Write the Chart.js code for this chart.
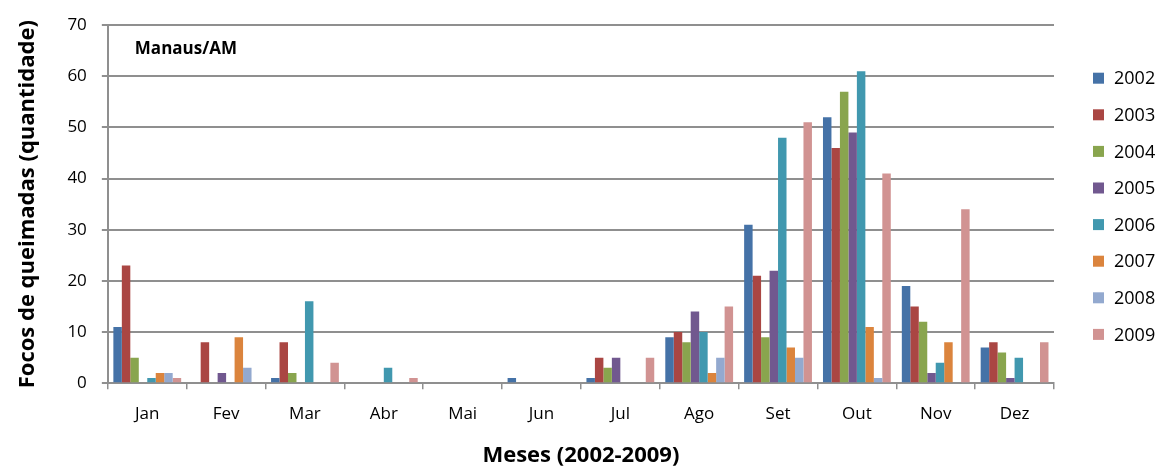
<!DOCTYPE html>
<html>
<head>
<meta charset="utf-8">
<script src="https://cdn.jsdelivr.net/npm/chart.js@4"></script>
<style>
  html, body { margin: 0; padding: 0; background: #ffffff; }
  #wrap { width: 1163px; height: 469px; }
</style>
</head>
<body>
<div id="wrap"><canvas id="chart" width="1163" height="469"></canvas></div>
<script>
// Focos de queimadas por mês, Manaus/AM, 2002–2009
const months = ['Jan', 'Fev', 'Mar', 'Abr', 'Mai', 'Jun', 'Jul', 'Ago', 'Set', 'Out', 'Nov', 'Dez'];
const years = ['2002', '2003', '2004', '2005', '2006', '2007', '2008', '2009'];

const focos2002 = [11, 0, 1, 0, 0, 1, 1, 9, 31, 52, 19, 7];
const focos2003 = [23, 8, 8, 0, 0, 0, 5, 10, 21, 46, 15, 8];
const focos2004 = [5, 0, 2, 0, 0, 0, 3, 8, 9, 57, 12, 6];
const focos2005 = [0, 2, 0, 0, 0, 0, 5, 14, 22, 49, 2, 1];
const focos2006 = [1, 0, 16, 3, 0, 0, 0, 10, 48, 61, 4, 5];
const focos2007 = [2, 9, 0, 0, 0, 0, 0, 2, 7, 11, 8, 0];
const focos2008 = [2, 3, 0, 0, 0, 0, 0, 5, 5, 1, 0, 0];
const focos2009 = [1, 0, 4, 1, 0, 0, 5, 15, 51, 41, 34, 8];

const yTicks = [0, 10, 20, 30, 40, 50, 60, 70];

const seriesValues = [focos2002, focos2003, focos2004, focos2005, focos2006, focos2007, focos2008, focos2009];
const seriesColors = ['#4572A7', '#AA4643', '#89A54E', '#71588F', '#4198AF', '#DB843D', '#93A9CF', '#D19392'];

const FONT = '"Open Sans", Lato, "DejaVu Sans", sans-serif';
const GRID = '#8f8f8f';

// Caption in the upper-left corner of the plot area
const cityLabel = {
  id: 'cityLabel',
  afterDraw(chart) {
    const { ctx, chartArea } = chart;
    ctx.save();
    ctx.font = 'bold 17px ' + FONT;
    ctx.fillStyle = '#000000';
    ctx.textBaseline = 'middle';
    ctx.fillText('Manaus/AM', chartArea.left + 27, chartArea.top + 24);
    ctx.restore();
  }
};

// Year legend stacked to the right of the plot area
const yearLegend = {
  id: 'yearLegend',
  afterDraw(chart) {
    const { ctx, chartArea } = chart;
    const x0 = chartArea.right + 39;
    const y0 = chartArea.top + 53;
    const step = 36.6;
    ctx.save();
    ctx.font = '18px ' + FONT;
    ctx.textBaseline = 'middle';
    chart.data.datasets.forEach((ds, i) => {
      const y = y0 + i * step;
      ctx.fillStyle = ds.backgroundColor;
      ctx.fillRect(x0, y - 5.5, 11, 11);
      ctx.fillStyle = '#000000';
      ctx.fillText(ds.label, x0 + 21, y + 1);
    });
    ctx.restore();
  }
};

new Chart(document.getElementById('chart'), {
  type: 'bar',
  data: {
    labels: months,
    datasets: years.map((y, i) => ({
      label: y,
      data: seriesValues[i],
      backgroundColor: seriesColors[i],
      borderWidth: 0,
      barPercentage: 1.0,
      categoryPercentage: 0.86
    }))
  },
  options: {
    responsive: false,
    animation: false,
    devicePixelRatio: 1,
    layout: { padding: { top: 14, right: 109, left: 15, bottom: 0 } },
    plugins: {
      tooltip: { enabled: false },
      legend: { display: false }
    },
    scales: {
      x: {
        grid: {
          display: true,
          drawOnChartArea: false,
          drawTicks: true,
          tickLength: 6,
          color: GRID,
          lineWidth: 1.5,
          offset: true
        },
        border: { color: GRID, width: 2 },
        ticks: {
          color: '#000000',
          padding: 15,
          font: { family: FONT, size: 17 }
        },
        title: {
          display: true,
          text: 'Meses (2002-2009)',
          color: '#000000',
          padding: { top: 3, bottom: 0 },
          font: { family: FONT, size: 22, weight: 'bold' }
        }
      },
      y: {
        min: 0,
        max: 70,
        afterBuildTicks(axis) { axis.ticks = yTicks.map(v => ({ value: v })); },
        grid: {
          color: GRID,
          lineWidth: 2,
          drawTicks: true,
          tickLength: 6
        },
        border: { color: GRID, width: 2 },
        ticks: {
          color: '#000000',
          padding: 15,
          font: { family: FONT, size: 17 }
        },
        title: {
          display: true,
          text: 'Focos de queimadas (quantidade)',
          color: '#000000',
          padding: { top: 0, bottom: 11 },
          font: { family: FONT, size: 22, weight: 'bold' }
        }
      }
    }
  },
  plugins: [cityLabel, yearLegend]
});
</script>
</body>
</html>
